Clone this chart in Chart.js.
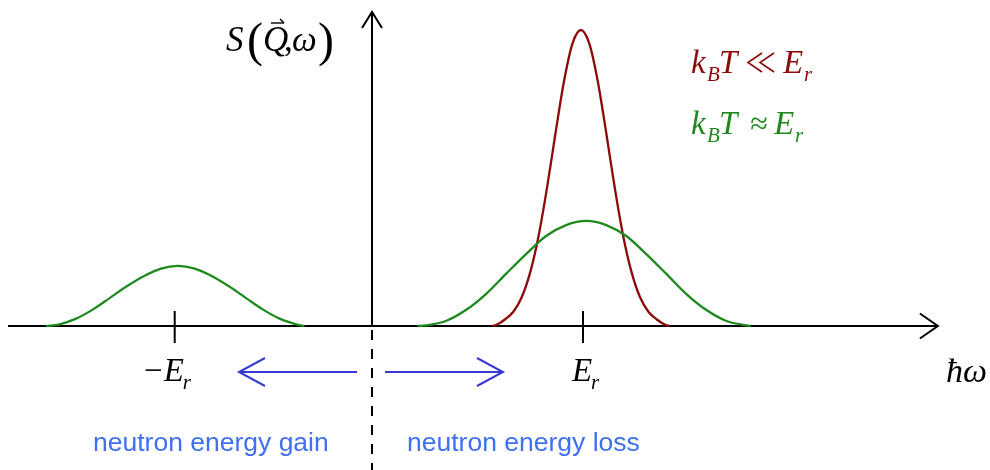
<!DOCTYPE html>
<html>
<head>
<meta charset="utf-8">
<script src="https://cdn.jsdelivr.net/npm/chart.js@4.4.1/dist/chart.umd.min.js"></script>
<style>
  html, body { margin: 0; padding: 0; background: #fff; }
  #wrap { width: 990px; height: 470px; position: relative; }
</style>
</head>
<body>
<div id="wrap"><canvas id="chartCanvas"></canvas></div>
<script>
// energy transfer in arbitrary units, E_r = 10; intensity scaled so the cold peak = 100
const coldX = [5.7, 5.9, 6.3, 6.7, 7.1, 7.5, 7.9, 8.3, 8.7, 9.1, 9.5, 9.9, 10.3, 10.7, 11.1, 11.5, 11.9, 12.3, 12.7, 13.1, 13.5, 13.9, 14.1];
const coldY = [0, 0.4, 2.2, 4.8, 9.8, 18.2, 30.6, 46.9, 65.3, 82.7, 95.4, 100, 95.4, 82.7, 65.3, 46.9, 30.6, 18.2, 9.8, 4.8, 2.2, 0.4, 0];

const warmLossX = [2.15, 2.55, 3.5, 4.45, 5.4, 6.35, 7.3, 8.25, 9.2, 10.15, 11.1, 12.05, 13.0, 13.95, 14.9, 15.85, 16.8, 17.75, 17.95];
const warmLossY = [0, 0.2, 1.7, 5.4, 10.8, 17.6, 24.3, 30.4, 34.1, 35.5, 34.1, 30.4, 24.3, 17.6, 10.8, 5.4, 1.7, 0.2, 0];

const warmGainX = [-15.45, -14.85, -14.05, -13.2, -12.4, -11.6, -10.8, -10.0, -9.2, -8.4, -7.6, -6.8, -6.0, -5.2, -4.35, -3.55, -3.2];
const warmGainY = [0, 0.5, 2.4, 5.7, 9.6, 13.5, 16.9, 19.4, 20.3, 19.4, 16.9, 13.5, 9.6, 5.7, 2.4, 0.5, 0];

const tickValues = [-9.35, 10];
const tickLabels = [['\u2212', 'E', 'r'], ['', 'E', 'r']];

const RED = '#8b0a0a';
const GREEN = '#1e8a1e';

const toPts = (xs, ys) => xs.map((v, i) => ({ x: v, y: ys[i] }));

const serif = "'Liberation Serif', 'Times New Roman', serif";
const it = (s) => 'italic ' + s + 'px ' + serif;
const rm = (s) => s + 'px ' + serif;

function text(ctx, str, x, y, font, color, align) {
  ctx.font = font;
  ctx.fillStyle = color;
  ctx.textAlign = align || 'left';
  ctx.fillText(str, x, y);
}

function seg(ctx, x1, y1, x2, y2) {
  ctx.beginPath();
  ctx.moveTo(x1, y1);
  ctx.lineTo(x2, y2);
  ctx.stroke();
}

// "much less than": two thin chevrons
function muchLess(ctx, cx, base, color) {
  ctx.strokeStyle = color;
  ctx.lineWidth = 1.6;
  [-6, 6].forEach(off => {
    ctx.beginPath();
    ctx.moveTo(cx + off + 7, base - 20);
    ctx.lineTo(cx + off - 7, base - 10.5);
    ctx.lineTo(cx + off + 7, base - 1);
    ctx.stroke();
  });
}

const diagram = {
  id: 'diagram',
  beforeDatasetsDraw(chart) {
    const { ctx, scales: { x, y } } = chart;
    const x0 = x.getPixelForValue(0);
    const y0 = y.getPixelForValue(0);
    ctx.save();
    ctx.strokeStyle = '#000';
    ctx.lineWidth = 2;

    // horizontal axis with open arrowhead
    const xs = x.getPixelForValue(-17.25);
    const xe = x.getPixelForValue(26.82);
    seg(ctx, xs, y0, xe, y0);
    ctx.beginPath();
    ctx.moveTo(xe - 18, y0 - 12.5);
    ctx.lineTo(xe, y0);
    ctx.lineTo(xe - 18, y0 + 12.5);
    ctx.stroke();

    // vertical axis
    const yt = y.getPixelForValue(106.1);
    seg(ctx, x0, y0, x0, yt);
    ctx.beginPath();
    ctx.moveTo(x0 - 10, yt + 16);
    ctx.lineTo(x0, yt);
    ctx.lineTo(x0 + 10, yt + 16);
    ctx.stroke();

    // dashed continuation below the axis
    ctx.setLineDash([10, 9]);
    seg(ctx, x0, y0 + 4, x0, chart.height);
    ctx.setLineDash([]);

    // ticks
    tickValues.forEach(v => {
      const px = x.getPixelForValue(v);
      seg(ctx, px, y0 - 15, px, y0 + 17);
    });
    ctx.restore();
  },
  afterDatasetsDraw(chart) {
    const { ctx, scales: { x } } = chart;
    const x0 = x.getPixelForValue(0);
    ctx.save();
    ctx.textBaseline = 'alphabetic';

    // tick labels
    tickValues.forEach((v, i) => {
      const px = x.getPixelForValue(v);
      const [pre, main, sub] = tickLabels[i];
      ctx.font = it(33);
      const eW = ctx.measureText(main).width;
      const eX = px - eW / 2 - 1;
      if (pre) text(ctx, pre, eX - 1, 381, rm(33), '#000', 'right');
      text(ctx, main, eX, 381, it(33), '#000');
      text(ctx, sub, eX + eW - 1, 389, it(21), '#000');
    });

    // axis titles
    text(ctx, '\u0127\u03c9', 946, 382, it(34), '#000');
    text(ctx, 'S', 226, 51, it(35), '#000');
    text(ctx, '(', 247, 56, rm(48), '#000');
    text(ctx, 'Q', 263, 51, it(35), '#000');
    text(ctx, ',', 284, 51, rm(35), '#000');
    text(ctx, '\u03c9', 292, 51, it(35), '#000');
    text(ctx, ')', 318, 56, rm(48), '#000');
    ctx.strokeStyle = '#000';
    ctx.lineWidth = 1.4;
    seg(ctx, 271, 23, 284, 23);
    seg(ctx, 284, 23, 280, 19);

    // temperature labels
    text(ctx, 'k', 691, 73, it(33), RED);
    text(ctx, 'B', 707, 81, it(21), RED);
    text(ctx, 'T', 719, 73, it(33), RED);
    muchLess(ctx, 761, 73, RED);
    text(ctx, 'E', 783, 73, it(33), RED);
    text(ctx, 'r', 804, 81, it(21), RED);

    text(ctx, 'k', 691, 134, it(33), GREEN);
    text(ctx, 'B', 707, 142, it(21), GREEN);
    text(ctx, 'T', 719, 134, it(33), GREEN);
    text(ctx, '\u2248', 759, 134, rm(32), GREEN, 'center');
    text(ctx, 'E', 774, 134, it(33), GREEN);
    text(ctx, 'r', 795, 142, it(21), GREEN);

    // blue arrows
    const ay = 372;
    ctx.strokeStyle = '#3838d2';
    ctx.lineWidth = 2;
    seg(ctx, x0 - 15, ay, x0 - 133, ay);
    ctx.beginPath();
    ctx.moveTo(x0 - 107, ay - 14);
    ctx.lineTo(x0 - 133, ay);
    ctx.lineTo(x0 - 107, ay + 14);
    ctx.stroke();
    seg(ctx, x0 + 13, ay, x0 + 131, ay);
    ctx.beginPath();
    ctx.moveTo(x0 + 105, ay - 14);
    ctx.lineTo(x0 + 131, ay);
    ctx.lineTo(x0 + 105, ay + 14);
    ctx.stroke();

    const sans = "26.5px 'Liberation Sans', Arial, sans-serif";
    text(ctx, 'neutron energy gain', 93, 451, sans, '#3f6ff2');
    text(ctx, 'neutron energy loss', 407, 451, sans, '#3f6ff2');
    ctx.restore();
  }
};

const ctx = document.getElementById('chartCanvas').getContext('2d');
new Chart(ctx, {
  type: 'line',
  data: {
    datasets: [
      { label: 'kBT ~ Er (gain)', data: toPts(warmGainX, warmGainY), borderColor: GREEN },
      { label: 'kBT ~ Er (loss)', data: toPts(warmLossX, warmLossY), borderColor: GREEN },
      { label: 'kBT << Er', data: toPts(coldX, coldY), borderColor: RED },
    ],
  },
  options: {
    responsive: true,
    maintainAspectRatio: false,
    animation: false,
    layout: { padding: 0 },
    elements: {
      point: { radius: 0 },
      line: { borderWidth: 2.3, cubicInterpolationMode: 'monotone', fill: false },
    },
    scales: {
      x: { type: 'linear', min: -17.63, max: 29.289, display: false },
      y: { type: 'linear', min: -48.649, max: 110.135, display: false },
    },
    plugins: {
      legend: { display: false },
      tooltip: { enabled: false },
    },
  },
  plugins: [diagram],
});
</script>
</body>
</html>
